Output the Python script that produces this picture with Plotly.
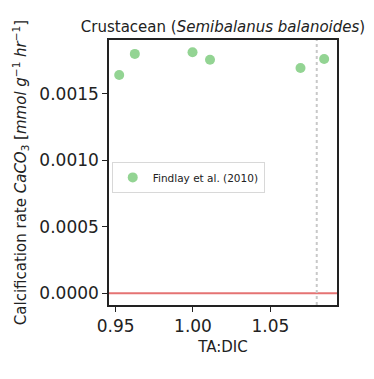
import plotly.graph_objects as go

ta_dic = [0.9523, 0.9624, 0.9997, 1.011, 1.0695, 1.0848]
calc_rate = [0.001641, 0.001800, 0.001812, 0.001756, 0.001694, 0.001762]
series_name = "Findlay et al. (2010)"
x_ticks = [0.95, 1.00, 1.05]
x_tick_labels = ["0.95", "1.00", "1.05"]
y_ticks = [0.0, 0.0005, 0.0010, 0.0015]
y_tick_labels = ["0.0000", "0.0005", "0.0010", "0.0015"]
threshold_x = 1.08

FONT = "DejaVu Sans"

fig = go.Figure()
fig.add_trace(go.Scatter(
    x=ta_dic, y=calc_rate, mode="markers", name=series_name,
    marker=dict(size=10, color="#93d493", line=dict(width=0)),
))
fig.add_hline(y=0, line=dict(color="#e57373", width=2))
fig.add_vline(x=threshold_x, line=dict(color="#c8c8c8", width=2, dash="dot"))

fig.update_layout(
    width=374, height=379,
    margin=dict(l=109, r=37, t=40, b=74),
    paper_bgcolor="white", plot_bgcolor="white",
    font=dict(family=FONT, color="#222"),
    showlegend=True,
    title=dict(
        text="Crustacean (<i>Semibalanus balanoides</i>)",
        font=dict(size=15, family=FONT, color="#222"),
        x=(74 + 372) / 2 / 374, xanchor="center", y=1 - 27 / 379, yanchor="middle",
    ),
    legend=dict(
        x=0.012, y=0.54, xanchor="left", yanchor="top",
        bgcolor="rgba(255,255,255,0.8)", bordercolor="#d8d8d8", borderwidth=1,
        font=dict(size=10.5, family=FONT, color="#222"),
        itemwidth=30,
    ),
    xaxis=dict(
        range=[0.9457, 1.0931],
        tickvals=x_ticks, ticktext=x_tick_labels,
        ticks="outside", ticklen=5, tickwidth=1, tickcolor="#222",
        showline=True, linecolor="#222", linewidth=1.5, mirror=True,
        showgrid=False, zeroline=False,
        tickfont=dict(size=17, family=FONT, color="#222"),
        title=dict(text="TA:DIC", font=dict(size=15, family=FONT, color="#222"), standoff=6),
    ),
    yaxis=dict(
        range=[-0.000088, 0.0019045],
        tickvals=y_ticks, ticktext=y_tick_labels,
        ticks="outside", ticklen=5, tickwidth=1, tickcolor="#222",
        showline=True, linecolor="#222", linewidth=1.5, mirror=True,
        showgrid=False, zeroline=False,
        tickfont=dict(size=17, family=FONT, color="#222"),
        title=dict(
            text="Calcification rate <i>CaCO</i><sub>3</sub> [<i>mmol g</i><sup>−1</sup> <i>hr</i><sup>−1</sup>]",
            font=dict(size=15, family=FONT, color="#222"), standoff=9,
        ),
    ),
)

fig.write_html("out.html")
